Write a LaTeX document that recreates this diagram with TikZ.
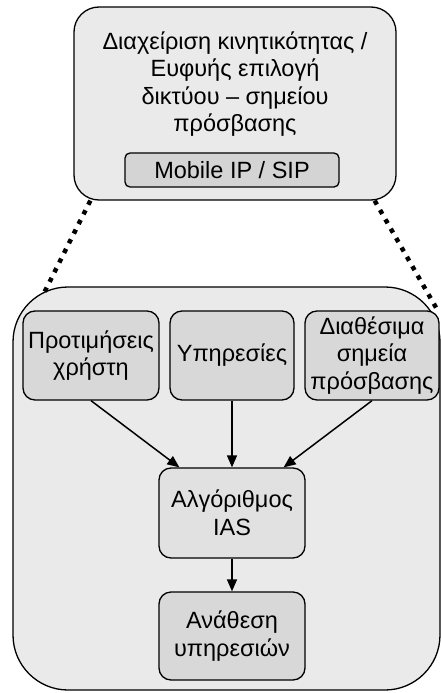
\documentclass[tikz,border=0pt]{standalone}
\usepackage{fontspec}
\setmainfont{Liberation Sans}
\usetikzlibrary{arrows.meta}
\definecolor{outerfill}{HTML}{EAEAEA}
\definecolor{innerfill}{HTML}{D8D8D8}
\definecolor{algofill}{HTML}{E1E1E1}
\definecolor{tagfill}{HTML}{D4D4D4}
\tikzset{
  panel/.style={draw=black, line width=1.3pt, fill=outerfill, rounded corners=#1, inner sep=0pt},
  blockbox/.style={draw=black, line width=1.3pt, fill=innerfill, rounded corners=12pt,
    align=center, inner sep=0pt, font=\fontsize{23.5}{27.5}\selectfont},
  flow/.style={line width=1.5pt, -{Triangle[length=12pt,width=10pt]}},
  zoomline/.style={line width=4.5pt, dash pattern=on 4.5pt off 6.3pt},
}
\begin{document}
\begin{tikzpicture}[x=1pt, y=-1pt]
\useasboundingbox (0,0) rectangle (441,693);

% upper panel: mobility management
\node[panel=25pt, minimum width=322pt, minimum height=193pt] (top) at (235,103.5) {};
\node[align=center, font=\fontsize{23.5}{27.5}\selectfont] (toptext) at (235,84)
  {Διαχείριση κινητικότητας /\\Ευφυής επιλογή\\δικτύου – σημείου\\πρόσβασης};
\node[draw=black, line width=1.3pt, fill=tagfill, rounded corners=5pt,
      minimum width=214pt, minimum height=34pt, inner sep=0pt,
      font=\fontsize{23.5}{27.5}\selectfont] (mip) at (232,170) {Mobile IP / SIP};

% lower panel: IAS algorithm
\node[panel=55pt, minimum width=427pt, minimum height=403pt] (big) at (226.5,488.5) {};

\node[blockbox, minimum width=136pt, minimum height=89pt] (pref) at (91,355.5) {Προτιμήσεις\\χρήστη};
\node[blockbox, minimum width=124pt, minimum height=89pt] (serv) at (232,355.5) {Υπηρεσίες};
\node[blockbox, minimum width=134pt, minimum height=89pt] (aps) at (372,355.5) {Διαθέσιμα\\σημεία\\πρόσβασης};
\node[blockbox, fill=algofill, minimum width=146pt, minimum height=90pt] (ias) at (232,513) {Αλγόριθμος\\IAS};
\node[blockbox, minimum width=146pt, minimum height=88pt] (assign) at (232,636) {Ανάθεση\\υπηρεσιών};

\draw[flow] (pref.south) -- ([xshift=21pt]ias.north west);
\draw[flow] (serv.south) -- (ias.north);
\draw[flow] (aps.south) -- ([xshift=-22pt]ias.north east);
\draw[flow] (ias.south) -- (assign.north);

% zoom lines between the panels
\coordinate (zl1) at ([xshift=17pt]top.south west);
\coordinate (zl2) at (42,297);
\coordinate (zr1) at ([xshift=-22pt]top.south east);
\coordinate (zr2) at (438,311);
\draw[zoomline] (zl1) -- (zl2);
\draw[zoomline] (zr1) -- (zr2);
\end{tikzpicture}
\end{document}
